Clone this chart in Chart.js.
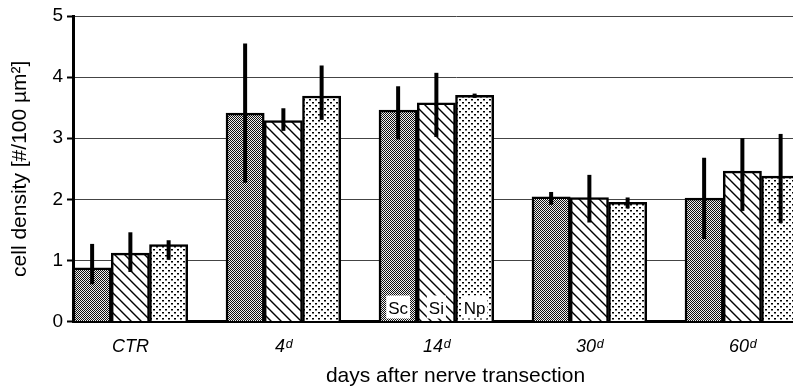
<!DOCTYPE html>
<html>
<head>
<meta charset="utf-8">
<script src="https://cdn.jsdelivr.net/npm/chart.js@4.4.1/dist/chart.umd.min.js"></script>
<style>
  html, body { margin: 0; padding: 0; background: #fff; overflow: hidden; }
  #wrap { width: 845px; height: 389px; }
</style>
</head>
<body>
<div id="wrap"><canvas id="densityChart" width="845" height="389"></canvas></div>
<script>
// Dados
const categories = ['CTR', '4ᵈ', '14ᵈ', '30ᵈ', '60ᵈ'];
const seriesNames = ['Sc', 'Si', 'Np'];

const scValues = [0.88, 3.41, 3.46, 2.04, 2.02];
const siValues = [1.12, 3.29, 3.58, 2.03, 2.46];
const npValues = [1.26, 3.69, 3.70, 1.95, 2.38];

// extremos das barras de erro (baixo / alto)
const scLow = [0.61, 2.27, 2.98, 1.91, 1.35];
const scHigh = [1.27, 4.55, 3.85, 2.12, 2.68];
const siLow = [0.81, 3.12, 3.02, 1.62, 1.81];
const siHigh = [1.46, 3.49, 4.07, 2.40, 3.00];
const npLow = [1.01, 3.30, 3.66, 1.85, 1.61];
const npHigh = [1.33, 4.19, 3.73, 2.03, 3.07];

const yTicks = [0, 1, 2, 3, 4, 5];

const FONT = "'Liberation Sans', Arial, sans-serif";

// Padrões de preenchimento (hachuras)
function makePattern(kind) {
  const c = document.createElement('canvas');
  const ctx = c.getContext('2d');
  if (kind === 'dense') {
    c.width = 2; c.height = 2;
    ctx.fillStyle = '#f0f0f0';
    ctx.fillRect(0, 0, 2, 2);
    ctx.fillStyle = '#111';
    ctx.fillRect(0, 0, 1, 1);
    ctx.fillRect(1, 1, 1, 1);
  } else if (kind === 'diag') {
    c.width = 10; c.height = 10;
    ctx.fillStyle = '#fff';
    ctx.fillRect(0, 0, 10, 10);
    ctx.strokeStyle = '#000';
    ctx.lineWidth = 1.4;
    ctx.beginPath();
    ctx.moveTo(-1, -1); ctx.lineTo(11, 11);
    ctx.moveTo(-11, -1); ctx.lineTo(1, 11);
    ctx.moveTo(9, -1); ctx.lineTo(21, 11);
    ctx.stroke();
  } else {
    c.width = 6; c.height = 6;
    ctx.fillStyle = '#fff';
    ctx.fillRect(0, 0, 6, 6);
    ctx.fillStyle = '#000';
    ctx.fillRect(0, 0, 2, 1.5);
    ctx.fillRect(3, 3, 2, 1.5);
  }
  return document.createElement('canvas').getContext('2d').createPattern(c, 'repeat');
}

const errors = [[scLow, scHigh], [siLow, siHigh], [npLow, npHigh]];

// Barras de erro (linhas verticais grossas, sem "caps")
const errorBarsPlugin = {
  id: 'errorBars',
  afterDatasetsDraw(chart) {
    const ctx = chart.ctx;
    const y = chart.scales.y;
    ctx.save();
    ctx.strokeStyle = '#000';
    ctx.lineWidth = 4;
    errors.forEach((pair, i) => {
      const meta = chart.getDatasetMeta(i);
      meta.data.forEach((bar, j) => {
        ctx.beginPath();
        ctx.moveTo(bar.x, y.getPixelForValue(pair[0][j]));
        ctx.lineTo(bar.x, y.getPixelForValue(pair[1][j]));
        ctx.stroke();
      });
    });
    ctx.restore();
  }
};

// Rótulos Sc / Si / Np dentro das barras de 14d
const seriesLabelsPlugin = {
  id: 'seriesLabels',
  afterDatasetsDraw(chart) {
    const ctx = chart.ctx;
    const bottom = chart.scales.y.getPixelForValue(0);
    ctx.save();
    ctx.font = '17px ' + FONT;
    ctx.textAlign = 'center';
    ctx.textBaseline = 'alphabetic';
    seriesNames.forEach((name, i) => {
      const bar = chart.getDatasetMeta(i).data[2];
      const w = ctx.measureText(name).width + 4;
      ctx.fillStyle = '#fff';
      ctx.fillRect(bar.x - w / 2, bottom - 26, w, 23);
      ctx.fillStyle = '#000';
      ctx.fillText(name, bar.x, bottom - 8);
    });
    ctx.restore();
  }
};

const barStyle = {
  borderColor: '#000',
  borderWidth: 2.5,
  barPercentage: 1,
  categoryPercentage: 1
};

new Chart(document.getElementById('densityChart'), {
  type: 'bar',
  data: {
    labels: categories,
    datasets: [
      { label: seriesNames[0], data: scValues, backgroundColor: makePattern('dense'), ...barStyle },
      { label: seriesNames[1], data: siValues, backgroundColor: makePattern('diag'), ...barStyle },
      { label: seriesNames[2], data: npValues, backgroundColor: makePattern('dots'), ...barStyle },
      // espaço vazio entre os grupos
      { label: '', data: categories.map(() => null), ...barStyle }
    ]
  },
  options: {
    responsive: false,
    animation: false,
    layout: { padding: { top: 16, right: 7, left: 0, bottom: 0 } },
    plugins: {
      legend: { display: false },
      tooltip: { enabled: false }
    },
    scales: {
      x: {
        grid: { display: false, drawTicks: false },
        border: { display: true, color: '#000', width: 3 },
        ticks: {
          color: '#000',
          font: { family: FONT, size: 18, style: 'italic' },
          padding: 15,
          labelOffset: -19
        },
        title: {
          display: true,
          text: 'days after nerve transection',
          color: '#000',
          font: { family: FONT, size: 21 },
          padding: { top: 1, bottom: 0 }
        },
        afterFit(scale) { scale.height = 67.5; }
      },
      y: {
        min: 0,
        max: 5,
        afterBuildTicks(scale) { scale.ticks = yTicks.map(v => ({ value: v })); },
        grid: {
          color: '#444',
          lineWidth: 1,
          drawTicks: true,
          tickLength: 6,
          tickColor: '#000',
          tickWidth: 2
        },
        border: { display: true, color: '#000', width: 3 },
        ticks: {
          color: '#000',
          font: { family: FONT, size: 19 },
          padding: 4
        },
        title: {
          display: true,
          text: 'cell density [#/100 µm²]',
          color: '#000',
          font: { family: FONT, size: 21 },
          padding: { top: 8, bottom: 4 }
        },
        afterFit(scale) { scale.width = 73; }
      }
    }
  },
  plugins: [errorBarsPlugin, seriesLabelsPlugin]
});
</script>
</body>
</html>
